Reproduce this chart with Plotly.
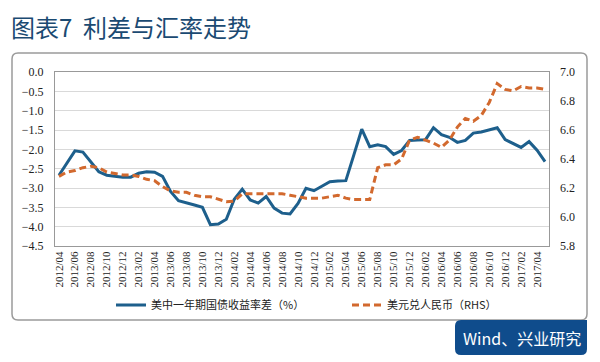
import plotly.graph_objects as go

# monthly categories 2012/04 .. 2017/05
months = []
y, m = 2012, 4
for _ in range(62):
    months.append(f"{y}/{m:02d}")
    m += 1
    if m > 12:
        m = 1
        y += 1

spread = [-2.67, -2.35, -2.04, -2.07, -2.33, -2.58, -2.67, -2.70, -2.72, -2.72,
          -2.62, -2.58, -2.59, -2.70, -3.09, -3.33, -3.38, -3.44, -3.50, -3.95,
          -3.93, -3.81, -3.29, -3.03, -3.31, -3.39, -3.22, -3.52, -3.65, -3.67,
          -3.40, -3.01, -3.07, -2.96, -2.84, -2.82, -2.81, -2.15, -1.48, -1.93,
          -1.88, -1.93, -2.13, -2.03, -1.77, -1.76, -1.75, -1.44, -1.62, -1.69,
          -1.82, -1.77, -1.58, -1.55, -1.50, -1.44, -1.75, -1.84, -1.95, -1.80,
          -2.02, -2.32]

usdcny = [6.28, 6.31, 6.32, 6.34, 6.35, 6.34, 6.31, 6.30, 6.29, 6.29,
          6.28, 6.26, 6.25, 6.21, 6.18, 6.17, 6.17, 6.15, 6.14, 6.14,
          6.12, 6.105, 6.11, 6.16, 6.16, 6.16, 6.16, 6.16, 6.16, 6.15,
          6.14, 6.13, 6.13, 6.13, 6.14, 6.15, 6.13, 6.12, 6.12, 6.12,
          6.34, 6.36, 6.36, 6.40, 6.53, 6.55, 6.53, 6.51, 6.48, 6.53,
          6.62, 6.68, 6.66, 6.70, 6.79, 6.92, 6.88, 6.87, 6.90, 6.89,
          6.89, 6.88]

tick_labels = months[::2]
left_ticks = [0.0, -0.5, -1.0, -1.5, -2.0, -2.5, -3.0, -3.5, -4.0, -4.5]
right_ticks = [5.8, 6.0, 6.2, 6.4, 6.6, 6.8, 7.0]

BLUE = "#1d5f8c"
ORANGE = "#d2692e"
BOX = "#0f4c8c"

# page body has an 8px margin: figure origin sits at screen (8, 8)
OFF = 8
W, H = 600 - OFF, 362 - OFF

# paper coords from screen px: plot spans x 55..549, y 72..246 on screen
def px_x(p):
    return (p - 55) / 494.0

def px_y(p):
    return (246 - p) / 174.0

fig = go.Figure()
fig.add_trace(go.Scatter(x=months, y=spread, mode="lines",
                         name="美中一年期国债收益率差（%）", legend="legend",
                         line=dict(color=BLUE, width=3)))
fig.add_trace(go.Scatter(x=months, y=usdcny, mode="lines", yaxis="y2",
                         name="美元兑人民币（RHS）", legend="legend2",
                         line=dict(color=ORANGE, width=3, dash="7px,4px")))

serif = "Liberation Serif"
leg_font = dict(family="Noto Sans CJK SC", size=11, color="#222")
fig.update_layout(
    width=W, height=H,
    margin=dict(l=55 - OFF, r=W - (549 - OFF), t=72 - OFF, b=H - (246 - OFF),
                autoexpand=False),
    paper_bgcolor="white", plot_bgcolor="white",
    title=dict(text="图表7  利差与汇率走势", x=(11 - OFF) / W, xanchor="left",
               y=1 - (29 - OFF) / H, yanchor="middle",
               font=dict(family="Noto Sans CJK SC", size=24, color="#1b4a72")),
    xaxis=dict(type="category", categoryorder="array", categoryarray=months,
               tickmode="array", tickvals=tick_labels, ticktext=tick_labels,
               tickangle=-90, tickfont=dict(family=serif, size=11, color="#222"),
               showgrid=False, showline=True, linecolor="#999", linewidth=1,
               mirror=True, ticks="", range=[-0.5, 61.5], automargin=False),
    yaxis=dict(range=[-4.5, 0], tickvals=left_ticks, tickformat=".1f",
               tickfont=dict(family=serif, size=12, color="#222"),
               showgrid=True, gridcolor="#d9d9d9", gridwidth=1,
               showline=True, linecolor="#999", linewidth=1, mirror=True,
               zeroline=False, ticks="", ticklabelstandoff=8, automargin=False),
    yaxis2=dict(range=[5.8, 7.0], tickvals=right_ticks, tickformat=".1f",
                overlaying="y", side="right", showgrid=False, zeroline=False,
                tickfont=dict(family=serif, size=12, color="#222"),
                ticks="", ticklabelstandoff=10, automargin=False),
    legend=dict(orientation="h", x=px_x(111), xanchor="left", y=px_y(305),
                yanchor="middle", font=leg_font, bgcolor="rgba(0,0,0,0)"),
    legend2=dict(orientation="h", x=px_x(347), xanchor="left", y=px_y(305),
                 yanchor="middle", font=leg_font, bgcolor="rgba(0,0,0,0)"),
    showlegend=True,
)

# rounded outer frame
L, R, T, B, r = 12, 587, 53, 320, 6
path = (f"M {px_x(L+r)},{px_y(T)} L {px_x(R-r)},{px_y(T)} "
        f"Q {px_x(R)},{px_y(T)} {px_x(R)},{px_y(T+r)} "
        f"L {px_x(R)},{px_y(B-r)} Q {px_x(R)},{px_y(B)} {px_x(R-r)},{px_y(B)} "
        f"L {px_x(L+r)},{px_y(B)} Q {px_x(L)},{px_y(B)} {px_x(L)},{px_y(B-r)} "
        f"L {px_x(L)},{px_y(T+r)} Q {px_x(L)},{px_y(T)} {px_x(L+r)},{px_y(T)} Z")
fig.add_shape(type="path", path=path, xref="paper", yref="paper",
              line=dict(color="#9a9a9a", width=1.5), fillcolor="rgba(0,0,0,0)",
              layer="below")

# source box
bl, br, bt, bb, rr = 455, 587, 320, 355, 6
bpath = (f"M {px_x(bl+rr)},{px_y(bt)} L {px_x(br)},{px_y(bt)} "
         f"L {px_x(br)},{px_y(bb-rr)} Q {px_x(br)},{px_y(bb)} {px_x(br-rr)},{px_y(bb)} "
         f"L {px_x(bl+rr)},{px_y(bb)} Q {px_x(bl)},{px_y(bb)} {px_x(bl)},{px_y(bb-rr)} "
         f"L {px_x(bl)},{px_y(bt+rr)} Q {px_x(bl)},{px_y(bt)} {px_x(bl+rr)},{px_y(bt)} Z")
fig.add_shape(type="path", path=bpath, xref="paper", yref="paper",
              line=dict(color=BOX, width=0), fillcolor=BOX)
fig.add_annotation(text="Wind、兴业研究", xref="paper", yref="paper",
                   x=px_x(522), y=px_y(337.5), xanchor="center", yanchor="middle",
                   showarrow=False,
                   font=dict(family="Noto Sans CJK SC", size=16, color="white"))

fig.write_html("out.html")
